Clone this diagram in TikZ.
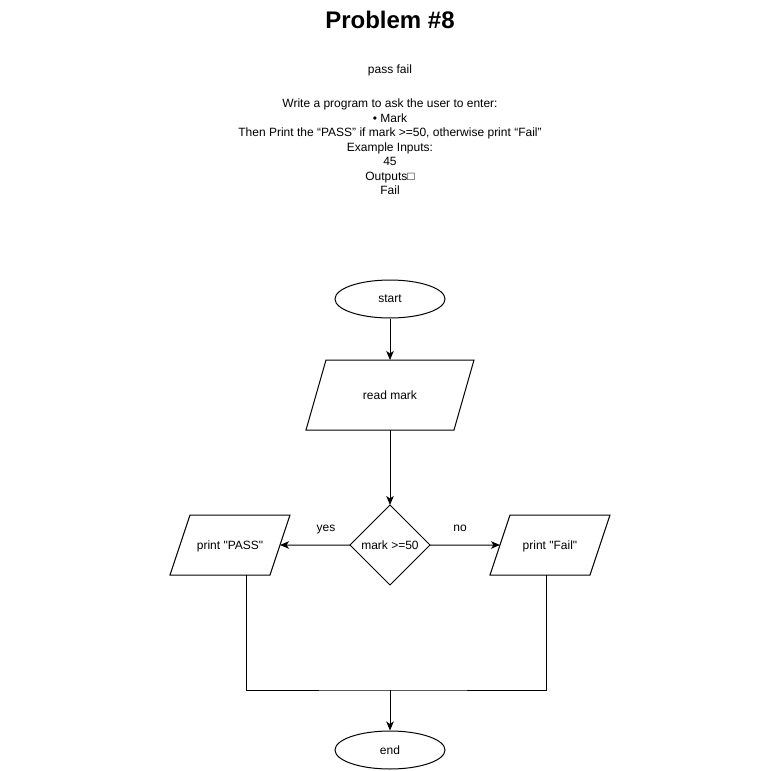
\documentclass[tikz,border=0pt]{standalone}
\usepackage{fontspec}
\setmainfont{Liberation Sans}[Ligatures=TeXOff]
\usetikzlibrary{shapes.geometric,arrows.meta}
\begin{document}
\begin{tikzpicture}[
  x=1pt, y=-1pt,
  every node/.style={font=\fontsize{12}{14.5}\selectfont},
  term/.style={draw, line width=1pt, ellipse, minimum width=110, minimum height=38,
               inner sep=0pt},
  iobox/.style={draw, line width=1pt, trapezium, trapezium stretches body=true,
                trapezium left angle=71.57, trapezium right angle=108.43,
                text height=10.5pt, text depth=1.5pt, inner xsep=0pt, inner ysep=24pt,
                minimum width=120, outer sep=0pt},
  decide/.style={draw, line width=1pt, diamond, minimum width=80, minimum height=80,
                 inner sep=0pt, outer sep=0pt},
  flow/.style={line width=1pt, -{Stealth[length=9pt, width=7.5pt, inset=2.5pt]}},
  link/.style={line width=1pt},
]
\useasboundingbox (0,0) rectangle (780,771);
\node[font=\fontsize{24}{28}\selectfont\bfseries] (title) at (390,20) {Problem \#8};
\node (sub) at (390,70) {pass fail};
\node[align=center, inner sep=0pt] (task) at (390,147)
  {Write a program to ask the user to enter:\\
   • Mark\\
   Then Print the “PASS” if mark >=50, otherwise print “Fail”\\
   Example Inputs:\\
   45\\
   Outputs□\\
   Fail};
\node[term] (start) at (390,299) {start};
\node[iobox, trapezium left angle=74.05, trapezium right angle=105.95,
      inner ysep=29pt, minimum width=168] (read) at (390,395) {read mark};
\node[decide] (test) at (390,545) {mark >=50};
\node[iobox] (pass) at (230,545) {print "PASS"};
\node[iobox] (fail) at (550,545) {print "Fail"};
\node[term] (end) at (390,750) {end};
\coordinate (join) at (390,690);
\draw[flow] (start) -- (read);
\draw[flow] (read) -- (test);
\draw[flow] (test.west) -- (pass.east);
\draw[flow] (test.east) -- (fail.west);
\node (yes) at (326,530) {yes};
\node (no) at (460,528) {no};
\draw[link] ([xshift=16]pass.south) |- (join) -| ([xshift=-4]fail.south);
\draw[flow] (join) -- (end);
\end{tikzpicture}
\end{document}
